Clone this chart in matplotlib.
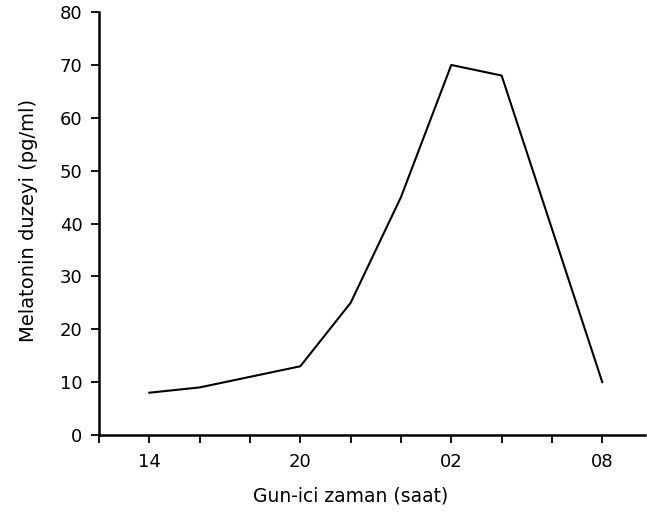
import matplotlib
matplotlib.use("Agg")
import matplotlib.pyplot as plt

# Hours of day (24+ means next day)
hours = [14, 16, 18, 20, 22, 24, 26, 28, 30, 32]
melatonin = [8, 9, 11, 13, 25, 45, 70, 68, 39, 10]

tick_hours = [12, 14, 16, 18, 20, 22, 24, 26, 28, 30, 32]
label_hours = {14: "14", 20: "20", 26: "02", 32: "08"}

plt.rcParams['font.family'] = ['DejaVu Sans']

fig = plt.figure(figsize=(6.47, 5.17), dpi=100)
ax = fig.add_axes([0.153, 0.1586, 0.844, 0.818])

ax.plot(hours, melatonin, color='black', linewidth=1.5)

ax.set_xlim(12, 33.7)
ax.set_ylim(0, 80)
ax.set_yticks(range(0, 81, 10))
ax.set_xticks(tick_hours)
ax.set_xticklabels([label_hours.get(h, "") for h in tick_hours])

for side in ['top', 'right']:
    ax.spines[side].set_visible(False)
ax.spines['left'].set_linewidth(1.8)
ax.spines['bottom'].set_linewidth(1.8)

ax.tick_params(axis='both', direction='out', length=6, width=1.3, labelsize=13)
ax.tick_params(axis='x', pad=7)
ax.tick_params(axis='y', pad=6)

ax.set_xlabel("Gun-ici zaman (saat)", fontsize=13.5)
ax.set_ylabel("Melatonin duzeyi (pg/ml)", fontsize=14)
ax.xaxis.set_label_coords(0.46, -0.121)
ax.yaxis.set_label_coords(-0.111, 0.508)

plt.savefig("out.png", dpi=100)
